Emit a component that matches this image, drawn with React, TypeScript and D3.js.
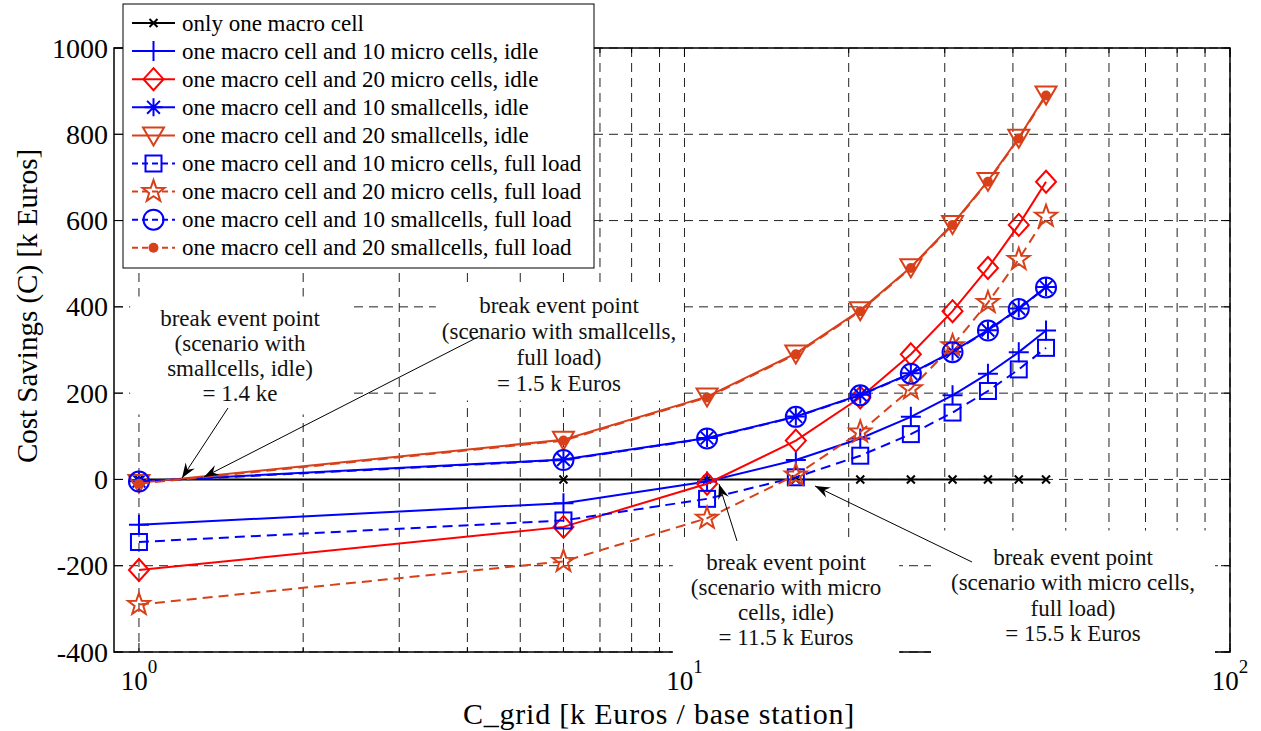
import * as d3 from 'd3';
import { useEffect, useRef } from 'react';

// C_grid values (k Euros / base station)
const cGrid = [1, 6, 11, 16, 21, 26, 31, 36, 41, 46];

// cost savings (k Euros) per scenario
const onlyMacro = [0, 0, 0, 0, 0, 0, 0, 0, 0, 0];
const micro10Idle = [-105, -55, -5, 45, 95, 145, 195, 245, 295, 345];
const micro20Idle = [-210, -110, -10, 90, 190, 290, 390, 490, 590, 690];
const small10Idle = [-4, 46, 96, 146, 196, 246, 296, 346, 396, 446];
const small20Idle = [-8, 92, 192, 292, 392, 492, 592, 692, 792, 892];
const micro10Full = [-145, -95, -45, 5, 55, 105, 155, 205, 255, 305];
const micro20Full = [-290, -190, -90, 10, 110, 210, 310, 410, 510, 610];
const small10Full = [-5, 45, 95, 145, 195, 245, 295, 345, 395, 445];
const small20Full = [-10, 90, 190, 290, 390, 490, 590, 690, 790, 890];

const yTickValues = [-400, -200, 0, 200, 400, 600, 800, 1000];
const xMajorTicks = [1, 10, 100];
const xTickExponents = ['0', '1', '2'];

const ORANGE = '#d8401a';
const FONT = 'Liberation Serif';

const seriesList = [
  { label: 'only one macro cell', values: onlyMacro, color: '#000000', dashed: false, marker: 'x' },
  { label: 'one macro cell and 10 micro cells, idle', values: micro10Idle, color: '#0000ff', dashed: false, marker: 'plus' },
  { label: 'one macro cell and 20 micro cells, idle', values: micro20Idle, color: '#ff0000', dashed: false, marker: 'diamond' },
  { label: 'one macro cell and 10 smallcells, idle', values: small10Idle, color: '#0000ff', dashed: false, marker: 'asterisk' },
  { label: 'one macro cell and 20 smallcells, idle', values: small20Idle, color: ORANGE, dashed: false, marker: 'triangle' },
  { label: 'one macro cell and 10 micro cells, full load', values: micro10Full, color: '#0000ff', dashed: true, marker: 'square' },
  { label: 'one macro cell and 20 micro cells, full load', values: micro20Full, color: ORANGE, dashed: true, marker: 'star' },
  { label: 'one macro cell and 10 smallcells, full load', values: small10Full, color: '#0000ff', dashed: true, marker: 'circle' },
  { label: 'one macro cell and 20 smallcells, full load', values: small20Full, color: ORANGE, dashed: true, marker: 'dot' },
];

const notes = [
  { lines: ['break event point', '(scenario with', 'smallcells, idle)', '= 1.4 ke'], cx: 240, cy: 318, step: 25, px: 30, py: 9,
    arrow: [228, 408, 182, 478] },
  { lines: ['break event point', '(scenario with smallcells,', 'full load)', '= 1.5 k Euros'], cx: 559, cy: 305, step: 26, px: 6, py: 5,
    arrow: [480, 336, 204, 477] },
  { lines: ['break event point', '(scenario with micro', 'cells, idle)', '= 11.5 k Euros'], cx: 786, cy: 562, step: 25, px: 18, py: 10,
    arrow: [737, 541, 719, 484] },
  { lines: ['break event point', '(scenario with micro cells,', 'full load)', '= 15.5 k Euros'], cx: 1073, cy: 557, step: 25.5, px: 20, py: 14,
    arrow: [972, 562, 815, 486] },
];

const drawMarker = (g, kind, cx, cy, color) => {
  const m = g.append('g').attr('transform', `translate(${cx},${cy})`)
    .attr('fill', 'none').attr('stroke', color).attr('stroke-width', 2);
  switch (kind) {
    case 'x':
      m.append('path').attr('d', 'M-4,-4L4,4M-4,4L4,-4').attr('stroke-width', 2);
      break;
    case 'plus':
      m.append('path').attr('d', 'M-10,0H10M0,-10V10');
      break;
    case 'diamond':
      m.append('path').attr('d', 'M0,-11L10,0L0,11L-10,0Z');
      break;
    case 'asterisk':
      m.append('path').attr('d', 'M-9,0H9M0,-9V9M-6.4,-6.4L6.4,6.4M-6.4,6.4L6.4,-6.4');
      break;
    case 'triangle':
      m.append('path').attr('d', 'M-10.5,-8L10.5,-8L0,10Z');
      break;
    case 'square':
      m.append('rect').attr('x', -8).attr('y', -8).attr('width', 16).attr('height', 16);
      break;
    case 'star': {
      const pts = d3.range(10).map((i) => {
        const r = i % 2 === 0 ? 11.5 : 4.6;
        const a = (-90 + i * 36) * Math.PI / 180;
        return [r * Math.cos(a), r * Math.sin(a)];
      });
      m.append('path').attr('d', 'M' + pts.map((p) => p.join(',')).join('L') + 'Z');
      break;
    }
    case 'circle':
      m.append('circle').attr('r', 10);
      break;
    case 'dot':
      m.append('circle').attr('r', 5).attr('fill', color).attr('stroke', 'none');
      break;
    default:
      break;
  }
};

const drawArrow = (g, x1, y1, x2, y2) => {
  g.append('line').attr('x1', x1).attr('y1', y1).attr('x2', x2).attr('y2', y2)
    .attr('stroke', '#000').attr('stroke-width', 1);
  const ang = Math.atan2(y2 - y1, x2 - x1) * 180 / Math.PI;
  g.append('path').attr('d', 'M0,0L-15,-5.5L-10,0L-15,5.5Z')
    .attr('transform', `translate(${x2},${y2}) rotate(${ang})`)
    .attr('fill', '#000');
};

const label = (sel, size) => sel.style('font-family', FONT).style('font-size', `${size}px`);

const App = () => {
  const ref = useRef(null);

  useEffect(() => {
    const svg = d3.select(ref.current);
    svg.selectAll('*').remove();

    const x = d3.scaleLog().domain([0.9, 100]).range([114, 1230]);
    const y = d3.scaleLinear().domain([-400, 1000]).range([652, 48]);
    const [x0, x1] = x.range();
    const [yb, yt] = y.range();

    svg.append('rect').attr('width', 1261).attr('height', 731).attr('fill', '#fff');

    // grid
    const xGrid = [];
    [1, 10].forEach((dec) => d3.range(1, 10).forEach((k) => xGrid.push(k * dec)));
    xGrid.push(100);
    const grid = svg.append('g').attr('stroke', '#222').attr('stroke-width', 1).attr('stroke-dasharray', '9,6');
    xGrid.forEach((v) => {
      grid.append('line').attr('x1', x(v)).attr('x2', x(v)).attr('y1', yt).attr('y2', yb);
    });
    yTickValues.forEach((v) => {
      grid.append('line').attr('x1', x0).attr('x2', x1).attr('y1', y(v)).attr('y2', y(v));
    });

    // ticks
    const ticks = svg.append('g').attr('stroke', '#000').attr('stroke-width', 1);
    xGrid.forEach((v) => {
      const len = xMajorTicks.includes(v) ? 9 : 5;
      ticks.append('line').attr('x1', x(v)).attr('x2', x(v)).attr('y1', yb).attr('y2', yb - len);
      ticks.append('line').attr('x1', x(v)).attr('x2', x(v)).attr('y1', yt).attr('y2', yt + len);
    });
    yTickValues.forEach((v) => {
      ticks.append('line').attr('x1', x0).attr('x2', x0 + 9).attr('y1', y(v)).attr('y2', y(v));
      ticks.append('line').attr('x1', x1).attr('x2', x1 - 9).attr('y1', y(v)).attr('y2', y(v));
    });

    svg.append('rect').attr('x', x0).attr('y', yt).attr('width', x1 - x0).attr('height', yb - yt)
      .attr('fill', 'none').attr('stroke', '#000').attr('stroke-width', 1.5);

    // tick labels
    yTickValues.forEach((v) => {
      label(svg.append('text'), 28).attr('x', x0 - 6).attr('y', y(v)).attr('text-anchor', 'end')
        .attr('dominant-baseline', 'central').text(v);
    });
    xMajorTicks.forEach((v, i) => {
      const t = label(svg.append('text'), 27).attr('x', x(v)).attr('y', 690).attr('text-anchor', 'middle');
      t.append('tspan').text('10');
      t.append('tspan').attr('dy', -17).style('font-size', '19px').text(xTickExponents[i]);
    });

    // series
    const line = d3.line().x((d) => x(d[0])).y((d) => y(d[1]));
    seriesList.forEach((s) => {
      const pts = cGrid.map((c, i) => [c, s.values[i]]);
      svg.append('path').attr('d', line(pts)).attr('fill', 'none').attr('stroke', s.color)
        .attr('stroke-width', 2).attr('stroke-dasharray', s.dashed ? '10,6' : null);
      const mg = svg.append('g');
      pts.forEach((p) => drawMarker(mg, s.marker, x(p[0]), y(p[1]), s.color));
    });

    // annotations
    notes.forEach((n) => {
      const g = svg.append('g');
      const bg = g.append('rect').attr('fill', '#fff');
      const tg = g.append('g');
      n.lines.forEach((l, i) => {
        label(tg.append('text'), 23).attr('x', n.cx).attr('y', n.cy + i * n.step).attr('text-anchor', 'middle')
          .attr('dominant-baseline', 'central').attr('fill', '#111').text(l);
      });
      const bb = tg.node().getBBox();
      bg.attr('x', bb.x - n.px).attr('y', bb.y - n.py)
        .attr('width', bb.width + 2 * n.px).attr('height', bb.height + 2 * n.py);
      const [ax1, ay1, ax2, ay2] = n.arrow;
      drawArrow(svg, ax1, ay1, ax2, ay2);
    });

    // legend
    const lg = svg.append('g');
    lg.append('rect').attr('x', 123).attr('y', 4).attr('width', 471).attr('height', 264)
      .attr('fill', '#fff').attr('stroke', '#000').attr('stroke-width', 1);
    seriesList.forEach((s, i) => {
      const ry = 23 + i * 28.1;
      lg.append('line').attr('x1', 132).attr('x2', 175).attr('y1', ry).attr('y2', ry)
        .attr('stroke', s.color).attr('stroke-width', 2).attr('stroke-dasharray', s.dashed ? '6,4' : null);
      drawMarker(lg, s.marker, 153.5, ry, s.color);
      label(lg.append('text'), 23).attr('x', 182).attr('y', ry).attr('dominant-baseline', 'central')
        .text(s.label);
    });

    // axis labels
    label(svg.append('text'), 30).attr('x', 659).attr('y', 724).attr('text-anchor', 'middle')
      .style('letter-spacing', '0.8px')
      .text('C_grid [k Euros / base station]');
    label(svg.append('text'), 29).attr('transform', 'translate(37,306) rotate(-90)').attr('text-anchor', 'middle')
      .text('Cost Savings (C) [k Euros]');
  }, []);

  return (
    <svg ref={ref} width={1261} height={731}
      style={{ position: 'absolute', left: 0, top: 0, display: 'block' }} />
  );
};

export default App;
